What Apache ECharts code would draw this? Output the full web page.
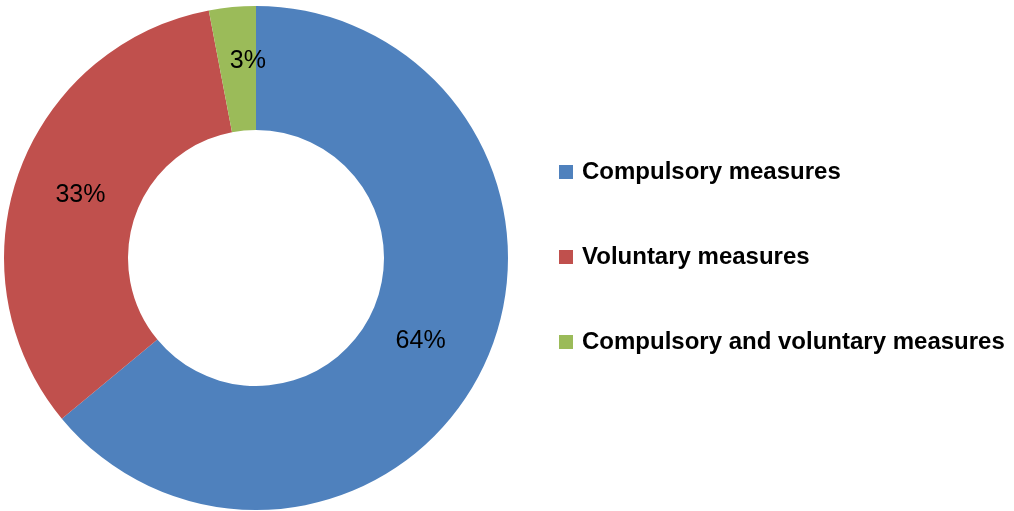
<!DOCTYPE html>
<html>
<head>
<meta charset="utf-8">
<script src="https://cdn.jsdelivr.net/npm/echarts@6/dist/echarts.min.js"></script>
<style>
  html, body { margin: 0; padding: 0; background: #ffffff; }
  #chart { width: 1014px; height: 511px; }
</style>
</head>
<body>
<div id="chart"></div>
<script>
// Share of measures by type (percent)
const categories = ['Compulsory measures', 'Voluntary measures', 'Compulsory and voluntary measures'];
const shares = [64, 33, 3];
const colors = ['#4F81BD', '#C0504D', '#9BBB59'];
// small nudges of the value labels inside their slices
const labelOffsets = [[-10, 1], [6, 2], [10, -5]];

const chart = echarts.init(document.getElementById('chart'));

chart.setOption({
  backgroundColor: '#ffffff',
  animation: false,
  color: colors,
  legend: {
    orient: 'vertical',
    left: 554,
    top: 155,
    itemWidth: 14,
    itemHeight: 14,
    itemGap: 61,
    icon: 'rect',
    textStyle: {
      fontFamily: 'Liberation Sans, Arial, sans-serif',
      fontWeight: 'bold',
      fontSize: 24,
      color: '#000000',
      padding: [0, 0, 0, 4]
    },
    data: categories
  },
  series: [{
    type: 'pie',
    center: [256, 258],
    radius: [128, 252],
    startAngle: 90,
    clockwise: true,
    avoidLabelOverlap: false,
    label: {
      show: true,
      position: 'inside',
      formatter: '{c}%',
      fontFamily: 'Liberation Sans, Arial, sans-serif',
      fontSize: 25,
      color: '#000000'
    },
    labelLine: { show: false },
    itemStyle: { borderWidth: 0 },
    emphasis: { disabled: true },
    data: categories.map((name, i) => ({
      name: name,
      value: shares[i],
      label: { offset: labelOffsets[i] }
    }))
  }]
});
</script>
</body>
</html>
